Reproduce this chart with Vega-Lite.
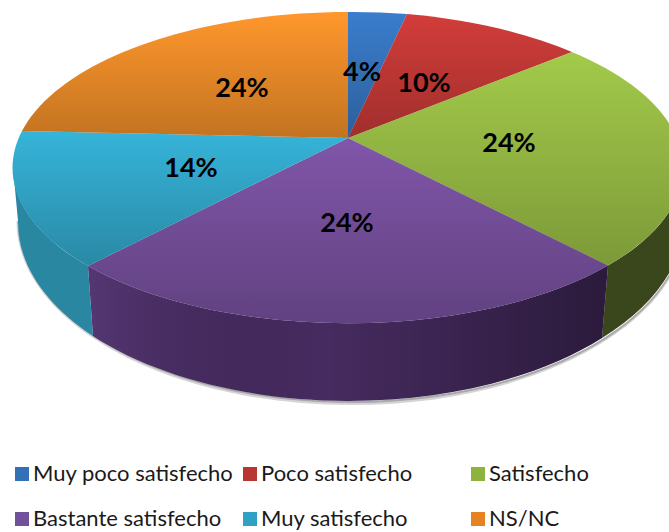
{
"$schema":"https://vega.github.io/schema/vega-lite/v6.json",
"width":669,"height":532,"padding":0,"autosize":{"type":"none"},
"background":"white",
"view":{"stroke":null},
"data":{"values":[
{"categoria":"Muy poco satisfecho","porcentaje":0.04},
{"categoria":"Poco satisfecho","porcentaje":0.10},
{"categoria":"Satisfecho","porcentaje":0.24},
{"categoria":"Bastante satisfecho","porcentaje":0.24},
{"categoria":"Muy satisfecho","porcentaje":0.14},
{"categoria":"NS/NC","porcentaje":0.24}
]},
"layer":[
{"mark":{"type":"square","filled":true,"opacity":1,"size":100},
 "encoding":{
  "color":{"field":"categoria","type":"nominal","sort":null,"scale":{"domain":["Muy poco satisfecho","Poco satisfecho","Satisfecho","Bastante satisfecho","Muy satisfecho","NS/NC"],
   "range":["#3370b5","#b73634","#8db23d","#72509a","#2fa2c3","#e78222"]},
   "legend":{"title":null,"orient":"none","direction":"horizontal","legendX":11,"legendY":463,"columns":3,"symbolType":"square","symbolSize":196,"symbolStrokeWidth":0,"labelFont":"Lato","labelFontSize":22,"labelColor":"#1a1a1a","labelOffset":0,"gridAlign":"all","columnPadding":5,"rowPadding":23,"labelLimit":300,"symbolOffset":0,"padding":0}}
 }},
{"transform":[{"filter":"datum.categoria=='Bastante satisfecho'"}],
 "mark":{"type":"point","filled":true,"size":4,"opacity":0.25,"color":"#555555","shape":"M-318 -45 A335 184 0 0 0 352 -45 L349.5 -45 A333 180 0 0 1 -316.5 -45 Z"}},
{"transform":[{"filter":"datum.categoria=='Bastante satisfecho'"}],
 "mark":{"type":"point","filled":true,"size":4,"opacity":0.35,"color":"#555555","shape":"M-317 -45 A334 182 0 0 0 351 -45 L349.5 -45 A333 180 0 0 1 -316.5 -45 Z"}},
{"transform":[{"filter":"indexof(['Satisfecho','Bastante satisfecho','Muy satisfecho'],datum.categoria)>=0"}],
 "mark":{"type":"point","filled":true,"opacity":1},
 "encoding":{
  "size":{"value":4},
  "shape":{"field":"categoria","type":"nominal","legend":null,"scale":{"domain":["Satisfecho","Bastante satisfecho","Muy satisfecho"],
   "range":["M273.5 -0.5 A335 155.5 0 0 0 348.5 -98.5 L349.5 -45 A333 180 0 0 1 267.5 72 Z",
    "M-246.5 0 A335 155.5 0 0 0 273.5 -0.5 L267.5 72 A333 180 0 0 1 -241.5 70 Z",
    "M-321.5 -98.5 A335 155.5 0 0 0 -246.5 0 L-241.5 70 A333 180 0 0 1 -316.5 -45 Z"]}},
  "color":{"field":"categoria","type":"nominal","legend":null,"scale":{"domain":["Satisfecho","Bastante satisfecho","Muy satisfecho"],
   "range":["#3a461b","#462b60","#2a87a2"]}}
 }},
{"transform":[{"filter":"datum.categoria=='Bastante satisfecho'"}],
 "mark":{"type":"point","filled":true,"opacity":1,"size":4,
  "shape":"M-246.5 0 A335 155.5 0 0 0 273.5 -0.5 L267.5 72 A333 180 0 0 1 -241.5 70 Z",
  "color":{"gradient":"linear","x1":0,"y1":0,"x2":1,"y2":0,"stops":[{"offset":0,"color":"rgba(120,80,160,0.3)"},{"offset":0.45,"color":"rgba(0,0,0,0)"},{"offset":1,"color":"rgba(0,0,0,0.38)"}]}}},
{"mark":{"type":"point","filled":true,"opacity":1},
 "encoding":{
  "size":{"value":4},
  "shape":{"field":"categoria","type":"nominal","legend":null,"scale":{"domain":["Muy poco satisfecho","Poco satisfecho","Satisfecho","Bastante satisfecho","Muy satisfecho","NS/NC"],
   "range":["M13.5 -128 L13.5 -254 A335 155.5 0 0 1 72.5 -252 Z",
    "M13.5 -128 L72.5 -252 A335 155.5 0 0 1 237.5 -214 Z",
    "M13.5 -128 L237.5 -214 A335 155.5 0 0 1 273.5 -0.5 Z",
    "M13.5 -128 L273.5 -0.5 A335 155.5 0 0 1 -246.5 0 Z",
    "M13.5 -128 L-246.5 0 A335 155.5 0 0 1 -312.5 -135 Z",
    "M13.5 -128 L-312.5 -135 A335 155.5 0 0 1 13.5 -254 Z"]}},
  "color":{"field":"categoria","type":"nominal","legend":null,"scale":{"domain":["Muy poco satisfecho","Poco satisfecho","Satisfecho","Bastante satisfecho","Muy satisfecho","NS/NC"],
   "range":["#3a7dcc","#d23d3a","#a3ca4a","#8056a9","#36b4d9","#ff972c"]}}
 }},
{"mark":{"type":"point","filled":true,"opacity":1,
  "color":{"gradient":"linear","x1":0,"y1":0,"x2":0,"y2":1,"stops":[{"offset":0,"color":"rgba(0,0,0,0)"},{"offset":1,"color":"rgba(0,0,0,0.24)"}]}},
 "encoding":{
  "size":{"value":4},
  "shape":{"field":"categoria","type":"nominal","legend":null,"scale":{"domain":["Muy poco satisfecho","Poco satisfecho","Satisfecho","Bastante satisfecho","Muy satisfecho","NS/NC"],
   "range":["M13.5 -128 L13.5 -254 A335 155.5 0 0 1 72.5 -252 Z",
    "M13.5 -128 L72.5 -252 A335 155.5 0 0 1 237.5 -214 Z",
    "M13.5 -128 L237.5 -214 A335 155.5 0 0 1 273.5 -0.5 Z",
    "M13.5 -128 L273.5 -0.5 A335 155.5 0 0 1 -246.5 0 Z",
    "M13.5 -128 L-246.5 0 A335 155.5 0 0 1 -312.5 -135 Z",
    "M13.5 -128 L-312.5 -135 A335 155.5 0 0 1 13.5 -254 Z"]}}
 }},
{"transform":[{"filter":"datum.categoria=='Muy poco satisfecho'"}],"mark":{"type":"text","font":"Lato","fontWeight":"bold","fontSize":27,"color":"black","dx":27.5,"dy":-193},"encoding":{"text":{"field":"porcentaje","type":"quantitative","format":".0%"}}},
{"transform":[{"filter":"datum.categoria=='Poco satisfecho'"}],"mark":{"type":"text","font":"Lato","fontWeight":"bold","fontSize":27,"color":"black","dx":89.5,"dy":-182},"encoding":{"text":{"field":"porcentaje","type":"quantitative","format":".0%"}}},
{"transform":[{"filter":"datum.categoria=='Satisfecho'"}],"mark":{"type":"text","font":"Lato","fontWeight":"bold","fontSize":27,"color":"black","dx":174.5,"dy":-122},"encoding":{"text":{"field":"porcentaje","type":"quantitative","format":".0%"}}},
{"transform":[{"filter":"datum.categoria=='Bastante satisfecho'"}],"mark":{"type":"text","font":"Lato","fontWeight":"bold","fontSize":27,"color":"black","dx":12.5,"dy":-42},"encoding":{"text":{"field":"porcentaje","type":"quantitative","format":".0%"}}},
{"transform":[{"filter":"datum.categoria=='Muy satisfecho'"}],"mark":{"type":"text","font":"Lato","fontWeight":"bold","fontSize":27,"color":"black","dx":-143.5,"dy":-97},"encoding":{"text":{"field":"porcentaje","type":"quantitative","format":".0%"}}},
{"transform":[{"filter":"datum.categoria=='NS/NC'"}],"mark":{"type":"text","font":"Lato","fontWeight":"bold","fontSize":27,"color":"black","dx":-92.5,"dy":-177},"encoding":{"text":{"field":"porcentaje","type":"quantitative","format":".0%"}}}
],
"resolve":{"scale":{"color":"independent","shape":"independent"}}
}
